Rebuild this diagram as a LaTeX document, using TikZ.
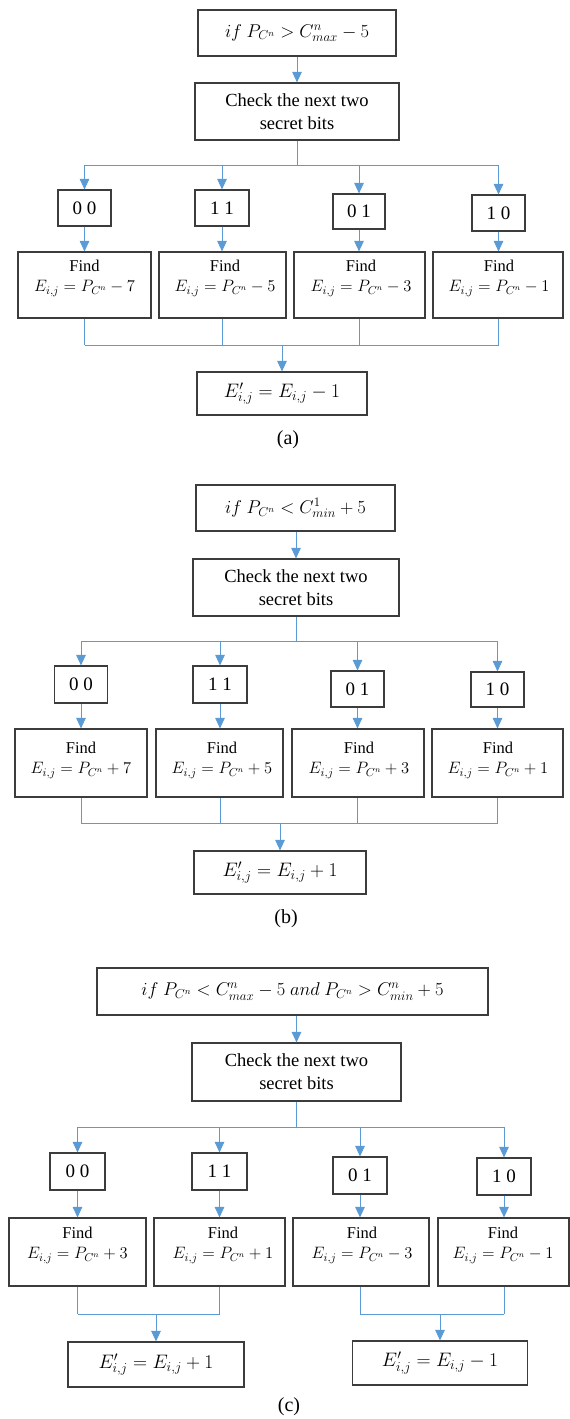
\RequirePackage{fix-cm}
\documentclass[tikz,border=0pt]{standalone}
\usepackage{fontspec}
\setmainfont{Liberation Serif}
\usetikzlibrary{arrows.meta}
\definecolor{conn}{HTML}{5B9BD5}
\definecolor{edge}{HTML}{3C3C3C}
\begin{document}
\begin{tikzpicture}[x=1pt,y=-1pt,
  box/.style={draw=edge,line width=1.1pt,inner sep=0pt,rectangle},
  big/.style={font=\fontsize{18.5}{23}\selectfont,align=center},
  bit/.style={font=\fontsize{19}{23}\selectfont},
  find/.style={font=\fontsize{16.5}{20.5}\selectfont,align=center,inner sep=0pt},
  res/.style={font=\fontsize{19.5}{23}\selectfont},
  captxt/.style={font=\fontsize{20}{24}\selectfont,inner sep=0pt},
  cline/.style={draw=conn,line width=0.9pt},
  arr/.style={cline,-{Triangle[width=9.5pt,length=10.5pt]}}]
\useasboundingbox (0,0) rectangle (570,1419);

% ---------------- (a) ----------------
\node[box,minimum width=198pt,minimum height=46pt,big] (a0) at (297,33) {$if\ P_{C^n} > C^n_{max}-5$};
\node[box,minimum width=204pt,minimum height=57pt,big] (a1) at (297,111.5) {Check the next two\\secret bits};
\coordinate (as) at (297,165);
\node[box,minimum width=53pt,minimum height=36pt,bit] (a00) at (84.5,208) {0 0};
\node[box,minimum width=54pt,minimum height=36pt,bit] (a11) at (222,208) {1 1};
\node[box,minimum width=52pt,minimum height=35pt,bit] (a01) at (359,211.5) {0 1};
\node[box,minimum width=53pt,minimum height=36pt,bit] (a10) at (498.5,213) {1 0};
\node[box,minimum width=133pt,minimum height=66pt] (af1) at (84.5,285) {};
\node[box,minimum width=127pt,minimum height=66pt] (af2) at (222.5,285) {};
\node[box,minimum width=131pt,minimum height=66pt] (af3) at (359.5,285) {};
\node[box,minimum width=130pt,minimum height=66pt] (af4) at (498,285) {};
\node[find] (at1) at (84.5,278) {Find\\$E_{i,j}=P_{C^n}-7$};
\node[find] (at2) at (225,278) {Find\\$E_{i,j}=P_{C^n}-5$};
\node[find] (at3) at (361,278) {Find\\$E_{i,j}=P_{C^n}-3$};
\node[find] (at4) at (499,278) {Find\\$E_{i,j}=P_{C^n}-1$};
\coordinate (aj) at (282,345);
\node[box,minimum width=170pt,minimum height=43pt,res] (ar) at (282,393.5) {$E'_{i,j}=E_{i,j}-1$};
\node[captxt] (acap) at (288,440) {(a)};

\draw[arr] (a1.north |- a0.south) -- (a1.north);
\draw[cline] (a1.south) -- (a1.south |- as);
\draw[cline] (a00.north |- as) -- (a10.north |- as);
\foreach \n in {a00,a11,a01,a10} \draw[arr] (\n.north |- as) -- (\n.north);
\draw[arr] (a00.south) -- (a00.south |- af1.north);
\draw[arr] (a11.south) -- (a11.south |- af2.north);
\draw[arr] (a01.south) -- (a01.south |- af3.north);
\draw[arr] (a10.south) -- (a10.south |- af4.north);
\draw[cline] (a00.south |- af1.south) -- (a00.south |- aj);
\draw[cline] (a11.south |- af2.south) -- (a11.south |- aj);
\draw[cline] (a01.south |- af3.south) -- (a01.south |- aj);
\draw[cline] (a10.south |- af4.south) -- (a10.south |- aj);
\draw[cline] (a00.south |- aj) -- (a10.south |- aj);
\draw[arr] (aj) -- (ar.north);

% ---------------- (b) ----------------
\node[box,minimum width=199pt,minimum height=46pt,big] (b0) at (295.5,508) {$if\ P_{C^n} < C^1_{min}+5$};
\node[box,minimum width=206pt,minimum height=57pt,big] (b1) at (296,587.5) {Check the next two\\secret bits};
\coordinate (bs) at (296,641);
\node[box,minimum width=53pt,minimum height=37pt,bit] (b00) at (81,684.5) {0 0};
\node[box,minimum width=54pt,minimum height=37pt,bit] (b11) at (220,684.5) {1 1};
\node[box,minimum width=53pt,minimum height=36pt,bit] (b01) at (357.5,689) {0 1};
\node[box,minimum width=53pt,minimum height=35pt,bit] (b10) at (497.5,689.5) {1 0};
\node[box,minimum width=132pt,minimum height=68pt] (bf1) at (81,763) {};
\node[box,minimum width=127pt,minimum height=68pt] (bf2) at (219.5,763) {};
\node[box,minimum width=132pt,minimum height=68pt] (bf3) at (358,763) {};
\node[box,minimum width=131pt,minimum height=68pt] (bf4) at (497.5,763) {};
\node[find] (bt1) at (81,760) {Find\\$E_{i,j}=P_{C^n}+7$};
\node[find] (bt2) at (222,760) {Find\\$E_{i,j}=P_{C^n}+5$};
\node[find] (bt3) at (359,760) {Find\\$E_{i,j}=P_{C^n}+3$};
\node[find] (bt4) at (498,760) {Find\\$E_{i,j}=P_{C^n}+1$};
\coordinate (bj) at (280,823);
\node[box,minimum width=172pt,minimum height=43pt,res] (br) at (280,872.5) {$E'_{i,j}=E_{i,j}+1$};
\node[captxt] (bcap) at (286,919) {(b)};

\draw[arr] (b1.north |- b0.south) -- (b1.north);
\draw[cline] (b1.south) -- (b1.south |- bs);
\draw[cline] (b00.north |- bs) -- (b10.north |- bs);
\foreach \n in {b00,b11,b01,b10} \draw[arr] (\n.north |- bs) -- (\n.north);
\draw[arr] (b00.south) -- (b00.south |- bf1.north);
\draw[arr] (b11.south) -- (b11.south |- bf2.north);
\draw[arr] (b01.south) -- (b01.south |- bf3.north);
\draw[arr] (b10.south) -- (b10.south |- bf4.north);
\draw[cline] (b00.south |- bf1.south) -- (b00.south |- bj);
\draw[cline] (b11.south |- bf2.south) -- (b11.south |- bj);
\draw[cline] (b01.south |- bf3.south) -- (b01.south |- bj);
\draw[cline] (b10.south |- bf4.south) -- (b10.south |- bj);
\draw[cline] (b00.south |- bj) -- (b10.south |- bj);
\draw[arr] (bj) -- (br.north);

% ---------------- (c) ----------------
\node[box,minimum width=391pt,minimum height=47pt,big] (c0) at (292.5,991.5) {$if\ P_{C^n} < C^n_{max}-5\ and\ P_{C^n} > C^n_{min}+5$};
\node[box,minimum width=209pt,minimum height=58pt,big] (c1) at (296.5,1072) {Check the next two\\secret bits};
\coordinate (cs) at (296.5,1127);
\node[box,minimum width=55pt,minimum height=37pt,bit] (c00) at (77.5,1171.5) {0 0};
\node[box,minimum width=55pt,minimum height=37pt,bit] (c11) at (219.5,1171.5) {1 1};
\node[box,minimum width=54pt,minimum height=37pt,bit] (c01) at (360,1175.5) {0 1};
\node[box,minimum width=54pt,minimum height=37pt,bit] (c10) at (504,1176.5) {1 0};
\node[box,minimum width=137pt,minimum height=68pt] (cf1) at (77.5,1252) {};
\node[box,minimum width=131pt,minimum height=68pt] (cf2) at (219.5,1252) {};
\node[box,minimum width=136pt,minimum height=68pt] (cf3) at (361,1252) {};
\node[box,minimum width=131pt,minimum height=68pt] (cf4) at (503.5,1252) {};
\node[find] (ct1) at (77.5,1245) {Find\\$E_{i,j}=P_{C^n}+3$};
\node[find] (ct2) at (223,1245) {Find\\$E_{i,j}=P_{C^n}+1$};
\node[find] (ct3) at (362,1245) {Find\\$E_{i,j}=P_{C^n}-3$};
\node[find] (ct4) at (503,1245) {Find\\$E_{i,j}=P_{C^n}-1$};
\coordinate (cjl) at (156,1314);
\coordinate (cjr) at (440,1314);
\node[box,minimum width=176pt,minimum height=45pt,res] (crl) at (156,1364.5) {$E'_{i,j}=E_{i,j}+1$};
\node[box,minimum width=175pt,minimum height=44pt,res] (crr) at (440,1363) {$E'_{i,j}=E_{i,j}-1$};
\node[captxt] (ccap) at (289,1407) {(c)};

\draw[arr] (c1.north |- c0.south) -- (c1.north);
\draw[cline] (c1.south) -- (c1.south |- cs);
\draw[cline] (c00.north |- cs) -- (c10.north |- cs);
\foreach \n in {c00,c11,c01,c10} \draw[arr] (\n.north |- cs) -- (\n.north);
\draw[arr] (c00.south) -- (c00.south |- cf1.north);
\draw[arr] (c11.south) -- (c11.south |- cf2.north);
\draw[arr] (c01.south) -- (c01.south |- cf3.north);
\draw[arr] (c10.south) -- (c10.south |- cf4.north);
\draw[cline] (c00.south |- cf1.south) -- (c00.south |- cjl);
\draw[cline] (c11.south |- cf2.south) -- (c11.south |- cjl);
\draw[cline] (c00.south |- cjl) -- (c11.south |- cjl);
\draw[arr] (cjl) -- (crl.north);
\draw[cline] (c01.south |- cf3.south) -- (c01.south |- cjr);
\draw[cline] (c10.south |- cf4.south) -- (c10.south |- cjr);
\draw[cline] (c01.south |- cjr) -- (c10.south |- cjr);
\draw[arr] (cjr) -- (crr.north);
\end{tikzpicture}
\end{document}
